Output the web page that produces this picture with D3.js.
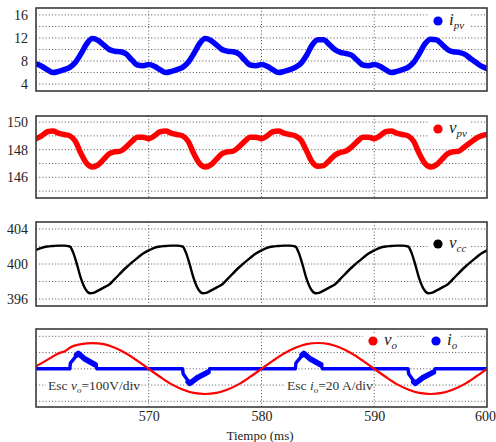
<!DOCTYPE html>
<html>
<head>
  <meta charset="utf-8">
  <title>Formas de onda</title>
  <script src="https://d3js.org/d3.v7.min.js"></script>
  <style>
    body { margin: 0; background: #fff; }
    svg { display: block; }
    svg text { font-family: "Liberation Serif", "DejaVu Serif", serif; }
  </style>
</head>
<body>
  <svg width="496" height="442"></svg>
  <script>
    // ---- datos (tiempo en ms, valor) ----
    var ipvData = [
      [560.0, 7.5], [560.5, 7.1], [561.0, 6.5], [561.5, 6.0], [562.0, 6.2], [562.5, 6.5], [563.0, 6.9],
      [563.5, 7.8], [564.0, 9.3], [564.5, 11.0], [565.0, 11.9], [565.5, 11.6], [566.0, 10.8], [566.5, 10.0],
      [567.0, 9.7], [567.5, 9.6], [568.0, 9.2], [568.5, 8.2], [569.0, 7.3], [569.5, 7.2], [570.0, 7.4],
      [570.5, 7.1], [571.0, 6.5], [571.5, 6.0], [572.0, 6.2], [572.5, 6.5], [573.0, 6.9],
      [573.5, 7.8], [574.0, 9.3], [574.5, 11.0], [575.0, 11.9], [575.5, 11.6], [576.0, 10.8], [576.5, 10.0],
      [577.0, 9.7], [577.5, 9.6], [578.0, 9.2], [578.5, 8.2], [579.0, 7.3], [579.5, 7.2], [580.0, 7.4],
      [580.5, 7.1], [581.0, 6.5], [581.5, 6.0], [582.0, 6.2], [582.5, 6.5], [583.0, 6.9],
      [583.5, 7.6], [584.0, 9.0], [584.5, 10.8], [585.0, 11.7], [585.5, 11.7], [586.0, 10.9], [586.5, 10.0],
      [587.0, 9.5], [587.5, 9.3], [588.0, 9.0], [588.5, 8.1], [589.0, 7.3], [589.5, 7.2], [590.0, 7.4],
      [590.5, 7.1], [591.0, 6.5], [591.5, 6.0], [592.0, 6.2], [592.5, 6.5], [593.0, 6.9],
      [593.5, 7.8], [594.0, 9.3], [594.5, 11.0], [595.0, 11.8], [595.5, 11.7], [596.0, 10.9], [596.5, 10.0],
      [597.0, 9.6], [597.5, 9.5], [598.0, 9.2], [598.5, 8.5], [599.0, 7.8], [599.5, 7.1], [600.0, 6.7]
    ];
    var vpvData = [
      [560.0, 148.8], [560.5, 149.0], [561.0, 149.3], [561.5, 149.35], [562.0, 149.2], [562.5, 149.1], [563.0, 149.0],
      [563.5, 148.6], [564.0, 147.7], [564.5, 147.0], [565.0, 146.75], [565.5, 146.9], [566.0, 147.3], [566.5, 147.7],
      [567.0, 147.85], [567.5, 147.9], [568.0, 148.2], [568.5, 148.6], [569.0, 148.9], [569.5, 148.9], [570.0, 148.8],
      [570.5, 149.0], [571.0, 149.3], [571.5, 149.35], [572.0, 149.2], [572.5, 149.1], [573.0, 149.0],
      [573.5, 148.6], [574.0, 147.7], [574.5, 147.0], [575.0, 146.75], [575.5, 146.9], [576.0, 147.3], [576.5, 147.7],
      [577.0, 147.85], [577.5, 147.9], [578.0, 148.2], [578.5, 148.6], [579.0, 148.9], [579.5, 148.9], [580.0, 148.8],
      [580.5, 149.0], [581.0, 149.3], [581.5, 149.35], [582.0, 149.2], [582.5, 149.1], [583.0, 149.0],
      [583.5, 148.7], [584.0, 147.9], [584.5, 147.1], [585.0, 146.8], [585.5, 146.85], [586.0, 147.2], [586.5, 147.6],
      [587.0, 147.8], [587.5, 147.9], [588.0, 148.2], [588.5, 148.6], [589.0, 148.9], [589.5, 148.9], [590.0, 148.8],
      [590.5, 149.0], [591.0, 149.3], [591.5, 149.35], [592.0, 149.2], [592.5, 149.1], [593.0, 149.0],
      [593.5, 148.6], [594.0, 147.7], [594.5, 147.0], [595.0, 146.75], [595.5, 146.9], [596.0, 147.3], [596.5, 147.7],
      [597.0, 147.85], [597.5, 147.9], [598.0, 148.2], [598.5, 148.5], [599.0, 148.8], [599.5, 149.0], [600.0, 149.1]
    ];
    var vccData = [
      [560.0, 401.6], [560.5, 401.85], [561.0, 402.0], [561.5, 402.05], [562.0, 402.1], [562.5, 402.1], [563.0, 402.0],
      [563.3, 401.3], [563.6, 400.1], [564.0, 398.3], [564.4, 397.1], [564.8, 396.65], [565.1, 396.7], [565.5, 396.95],
      [566.0, 397.3], [566.5, 397.65], [567.0, 398.3], [568.0, 399.6], [569.0, 400.7], [569.5, 401.2], [570.0, 401.55],
      [570.5, 401.85], [571.0, 402.0], [571.5, 402.05], [572.0, 402.1], [572.5, 402.1], [573.0, 402.0],
      [573.3, 401.3], [573.6, 400.1], [574.0, 398.3], [574.4, 397.1], [574.8, 396.65], [575.1, 396.7], [575.5, 396.95],
      [576.0, 397.3], [576.5, 397.65], [577.0, 398.3], [578.0, 399.6], [579.0, 400.7], [579.5, 401.2], [580.0, 401.55],
      [580.5, 401.85], [581.0, 402.0], [581.5, 402.05], [582.0, 402.1], [582.5, 402.1], [583.0, 402.0],
      [583.3, 401.3], [583.6, 400.1], [584.0, 398.3], [584.4, 397.1], [584.8, 396.65], [585.1, 396.7], [585.5, 396.95],
      [586.0, 397.3], [586.5, 397.65], [587.0, 398.3], [588.0, 399.6], [589.0, 400.7], [589.5, 401.2], [590.0, 401.55],
      [590.5, 401.85], [591.0, 402.0], [591.5, 402.05], [592.0, 402.1], [592.5, 402.1], [593.0, 402.0],
      [593.3, 401.3], [593.6, 400.1], [594.0, 398.3], [594.4, 397.1], [594.8, 396.65], [595.1, 396.7], [595.5, 396.95],
      [596.0, 397.3], [596.5, 397.65], [597.0, 398.3], [598.0, 399.6], [599.0, 400.7], [599.5, 401.2], [600.0, 401.55]
    ];
    // escala: divisiones (vo 100 V/div, io 20 A/div)
    var voData = [
      [560, 0.15], [561, 0.55], [562, 0.95], [562.6, 1.1], [563, 1.3], [564, 1.52], [565, 1.58], [566, 1.52],
      [567, 1.29], [568, 0.94], [569, 0.49], [570, 0], [571, -0.49], [572, -0.94], [573, -1.27], [574, -1.48],
      [575, -1.55], [576, -1.48], [577, -1.27], [578, -0.94], [579, -0.49], [580, 0], [581, 0.49], [582, 0.94],
      [583, 1.29], [584, 1.52], [585, 1.59], [586, 1.52], [587, 1.29], [588, 0.94], [589, 0.49], [590, 0],
      [591, -0.49], [592, -0.94], [593, -1.27], [594, -1.48], [595, -1.55], [596, -1.48], [597, -1.27],
      [598, -0.94], [599, -0.49], [600, 0]
    ];
    var ioData = [
      [560, 0], [563.0, 0], [563.05, 0.35], [563.75, 0.95], [564.3, 0.62], [565.3, 0.25], [565.4, 0],
      [573.0, 0], [573.05, -0.3], [573.65, -0.9], [574.3, -0.55], [575.3, -0.2], [575.4, 0],
      [583.0, 0], [583.05, 0.35], [583.75, 0.95], [584.3, 0.62], [585.3, 0.25], [585.4, 0],
      [593.0, 0], [593.05, -0.3], [593.65, -0.9], [594.3, -0.55], [595.3, -0.2], [595.4, 0],
      [600, 0]
    ];
    // tramos con rizado (banda gruesa) de io
    var ioRipple = [
      [[563.6, 0.85], [563.75, 0.95], [564.3, 0.62], [565.25, 0.25]],
      [[573.5, -0.8], [573.65, -0.9], [574.3, -0.55], [575.25, -0.2]],
      [[583.6, 0.85], [583.75, 0.95], [584.3, 0.62], [585.25, 0.25]],
      [[593.5, -0.8], [593.65, -0.9], [594.3, -0.55], [595.25, -0.2]]
    ];

    var xTicks = [570, 580, 590, 600];
    var ipvTicks = [4, 8, 12, 16];
    var vpvTicks = [146, 148, 150];
    var vccTicks = [396, 400, 404];
    var ipvGrid = [4, 6, 8, 10, 12, 14, 16];
    var vpvGrid = [145, 146, 147, 148, 149, 150];
    var vccGrid = [396, 398, 400, 402, 404];
    var outGrid = [-2, -1, 0, 1, 2];

    var serif = "'Liberation Serif', 'DejaVu Serif', serif";

    // ---- dimensiones ----
    var svg = d3.select("svg");
    var x = d3.scaleLinear().domain([560, 600]).range([36, 487]);

    var ioSeries = [{ data: ioData, color: "#0000ff", width: 3.4, curve: d3.curveLinear }];
    ioRipple.forEach(function (seg) {
      ioSeries.push({ data: seg, color: "#0000ff", width: 5.5, curve: d3.curveLinear });
    });
    ioSeries.push({ data: voData, color: "#ff0000", width: 2.2, curve: d3.curveMonotoneX });

    var panels = [
      { top: 8, bottom: 91, domain: [2.8, 17.2], ticks: ipvTicks, grid: ipvGrid,
        series: [{ data: ipvData, color: "#0000ff", width: 5.5, curve: d3.curveMonotoneX }],
        legend: [{ cx: 438, cy: 21, color: "#0000ff", main: "i", sub: "pv" }] },
      { top: 116, bottom: 198, domain: [144.5, 150.44], ticks: vpvTicks, grid: vpvGrid,
        series: [{ data: vpvData, color: "#ff0000", width: 5.5, curve: d3.curveMonotoneX }],
        legend: [{ cx: 438, cy: 129, color: "#ff0000", main: "v", sub: "pv" }] },
      { top: 222, bottom: 306, domain: [395.2, 404.8], ticks: vccTicks, grid: vccGrid,
        series: [{ data: vccData, color: "#000000", width: 2.4, curve: d3.curveMonotoneX }],
        legend: [{ cx: 438, cy: 244, color: "#000000", main: "v", sub: "cc" }] },
      { top: 329, bottom: 407, domain: [-2.35, 2.45], ticks: [], grid: outGrid,
        series: ioSeries,
        legend: [{ cx: 373, cy: 341, color: "#ff0000", main: "v", sub: "o" },
                 { cx: 436, cy: 341, color: "#0000ff", main: "i", sub: "o" }] }
    ];

    panels.forEach(function (p, i) {
      var y = d3.scaleLinear().domain(p.domain).range([p.bottom, p.top]);
      var g = svg.append("g");

      svg.append("clipPath").attr("id", "clip" + i)
        .append("rect")
        .attr("x", x.range()[0]).attr("y", p.top)
        .attr("width", x.range()[1] - x.range()[0]).attr("height", p.bottom - p.top);

      // rejilla punteada
      g.selectAll(".hgrid").data(p.grid).enter().append("line")
        .attr("x1", x.range()[0]).attr("x2", x.range()[1])
        .attr("y1", function (d) { return y(d); }).attr("y2", function (d) { return y(d); })
        .attr("stroke", "#555").attr("stroke-width", 1).attr("stroke-dasharray", "1,2.2");
      g.selectAll(".vgrid").data([570, 580, 590]).enter().append("line")
        .attr("x1", function (d) { return x(d); }).attr("x2", function (d) { return x(d); })
        .attr("y1", p.top).attr("y2", p.bottom)
        .attr("stroke", "#555").attr("stroke-width", 1).attr("stroke-dasharray", "1,2.2");

      // curvas
      p.series.forEach(function (s) {
        var line = d3.line()
          .x(function (d) { return x(d[0]); })
          .y(function (d) { return y(d[1]); })
          .curve(s.curve);
        g.append("path")
          .datum(s.data)
          .attr("clip-path", "url(#clip" + i + ")")
          .attr("fill", "none")
          .attr("stroke", s.color)
          .attr("stroke-width", s.width)
          .attr("stroke-linejoin", "round")
          .attr("stroke-linecap", "round")
          .attr("d", line);
      });

      // eje y
      if (p.ticks.length) {
        var ax = g.append("g")
          .attr("transform", "translate(" + x.range()[0] + ",0)")
          .call(d3.axisLeft(y).tickValues(p.ticks).tickFormat(d3.format("d")).tickSize(0).tickPadding(8));
        ax.select(".domain").remove();
        ax.selectAll("text")
          .style("font-family", serif)
          .style("font-size", "14px").attr("fill", "#222");
      }

      // leyenda
      p.legend.forEach(function (l) {
        g.append("rect").attr("x", l.cx - 10).attr("y", l.cy - 8)
          .attr("width", l.sub.length > 1 ? 42 : 34).attr("height", 17).attr("fill", "#fff");
        g.append("circle").attr("cx", l.cx).attr("cy", l.cy).attr("r", 4.6).attr("fill", l.color);
        var t = g.append("text").attr("x", l.cx + 11).attr("y", l.cy + 4)
          .style("font-family", serif).style("font-style", "italic")
          .style("font-size", "17px").attr("fill", "#222");
        t.append("tspan").text(l.main);
        t.append("tspan").attr("dy", 4).style("font-size", "11px").text(l.sub);
      });

      // marco
      g.append("rect")
        .attr("x", x.range()[0]).attr("y", p.top)
        .attr("width", x.range()[1] - x.range()[0]).attr("height", p.bottom - p.top)
        .attr("fill", "none").attr("stroke", "#3a3a3a").attr("stroke-width", 1.6);

      // anotaciones de escala y eje x
      if (i === 3) {
        var notes = [{ x: 48, main: "v", sub: "o", rest: "=100V/div" },
                     { x: 287, main: "i", sub: "o", rest: "=20 A/div" }];
        notes.forEach(function (n) {
          g.append("rect").attr("x", n.x - 2).attr("y", 378).attr("width", 86).attr("height", 15).attr("fill", "#fff");
          var t = g.append("text").attr("x", n.x).attr("y", 390)
            .style("font-family", serif).style("font-size", "13.5px").attr("fill", "#333");
          t.append("tspan").text("Esc ");
          t.append("tspan").style("font-style", "italic").text(n.main);
          t.append("tspan").style("font-style", "italic").style("font-size", "9px").attr("dy", 3).text(n.sub);
          t.append("tspan").attr("dy", -3).text(n.rest);
        });

        var xa = svg.append("g")
          .attr("transform", "translate(0," + p.bottom + ")")
          .call(d3.axisBottom(x).tickValues(xTicks).tickFormat(d3.format("d")).tickSize(0).tickPadding(4));
        xa.select(".domain").remove();
        xa.selectAll("text").style("font-family", serif)
          .style("font-size", "14px").attr("fill", "#222")
          .attr("dx", function (d) { return d === 600 ? -2 : 0; });
      }
    });

    svg.append("text")
      .attr("x", 260).attr("y", 440)
      .attr("text-anchor", "middle")
      .style("font-family", serif)
      .style("font-size", "13px").attr("fill", "#222")
      .text("Tiempo (ms)");
  </script>
</body>
</html>
